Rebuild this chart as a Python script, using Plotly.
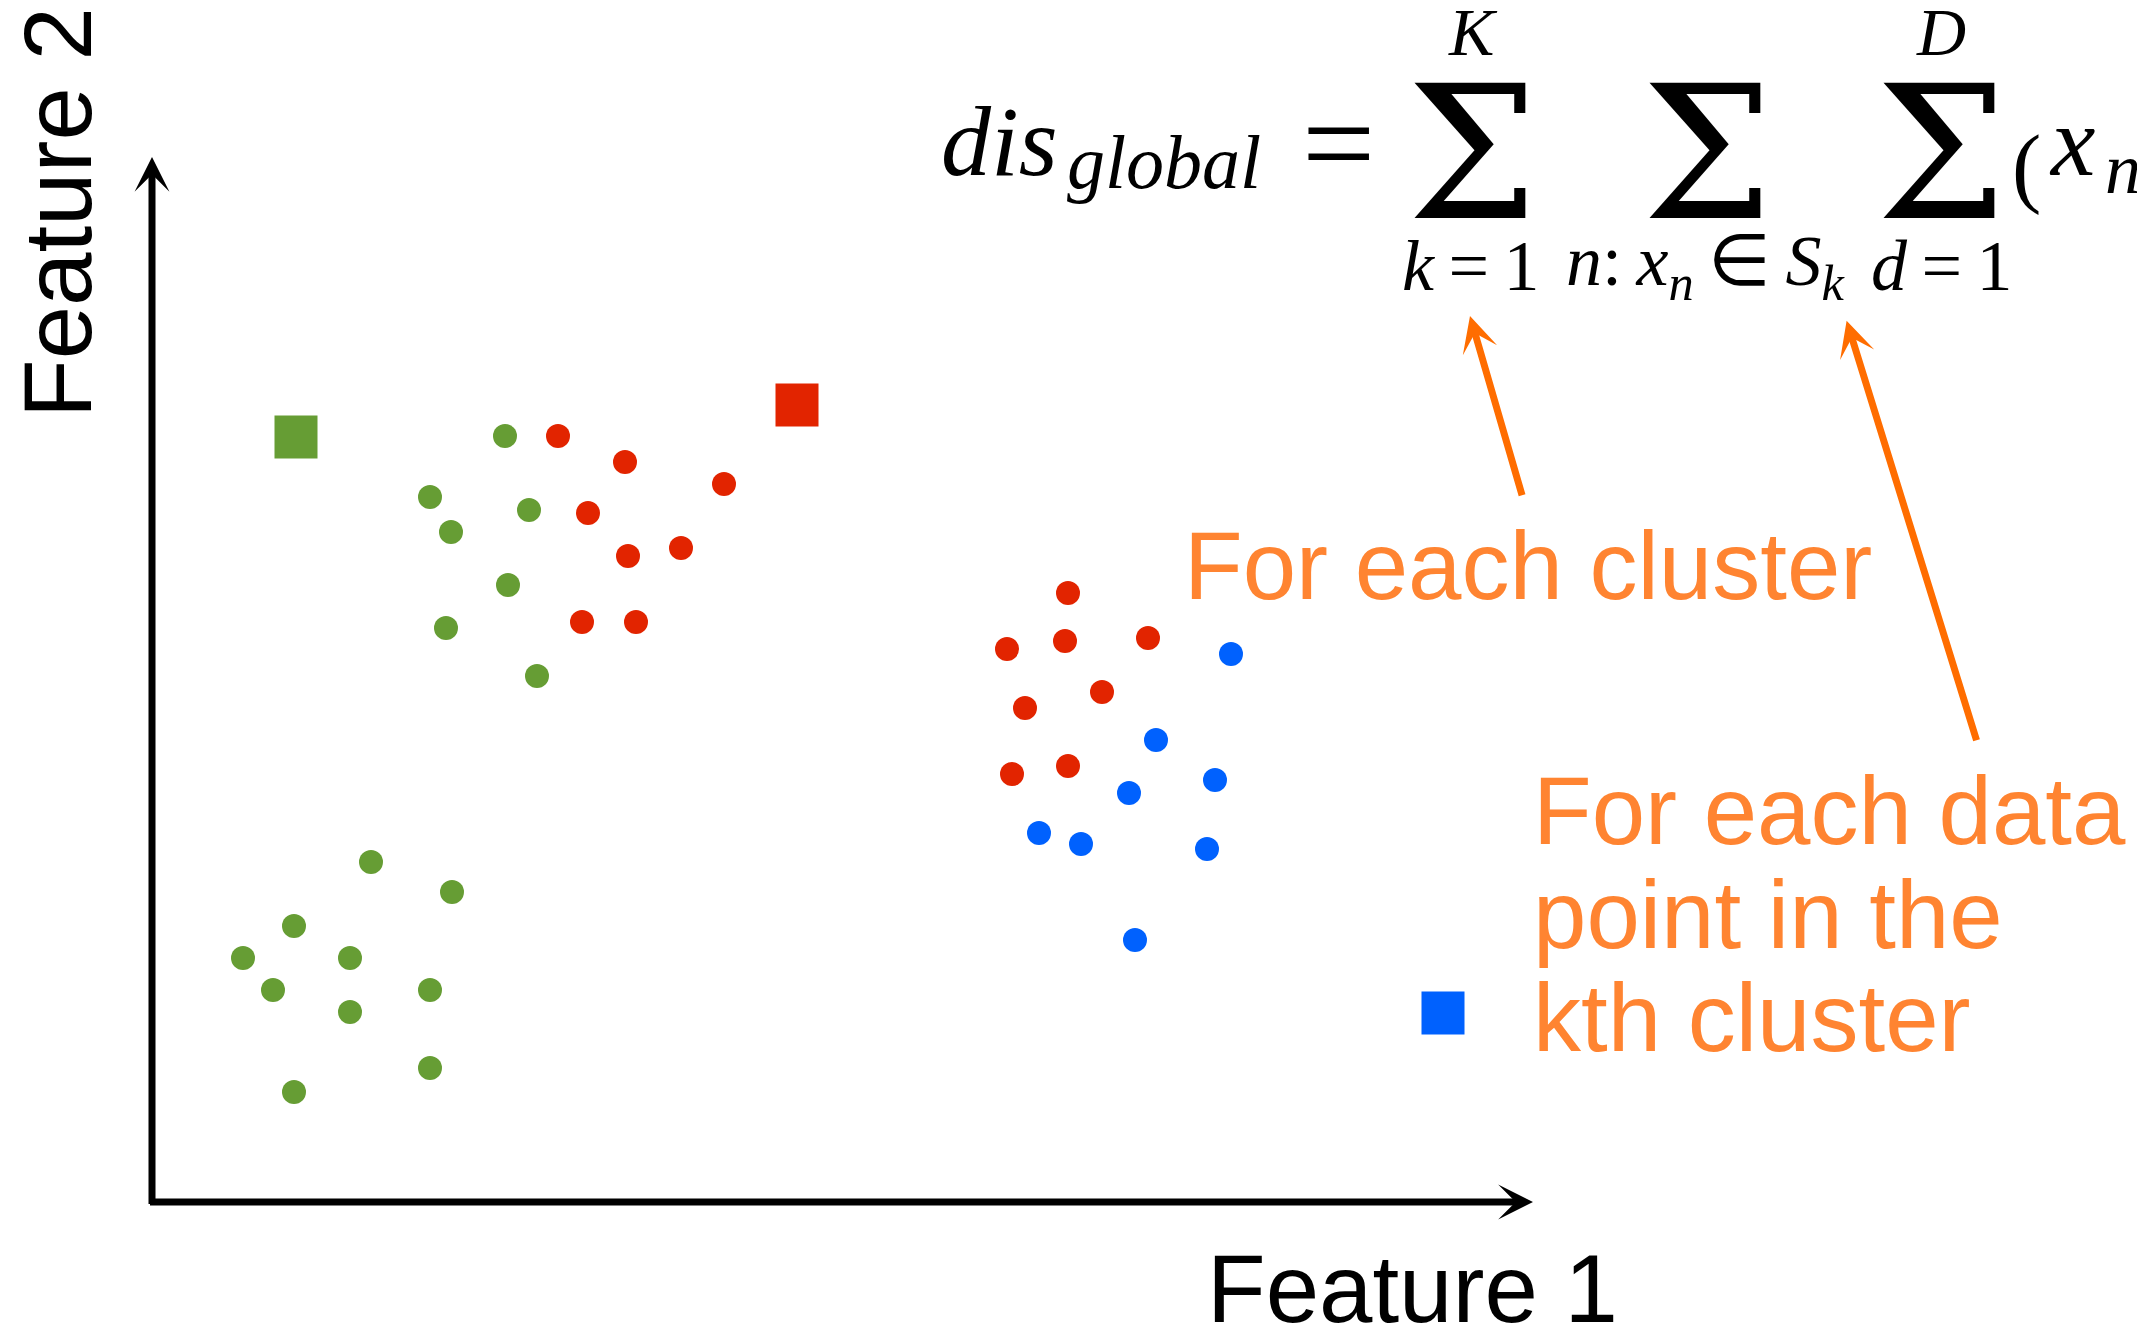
import plotly.graph_objects as go

W, H = 2137, 1325

# Samples in feature space (Feature 1, Feature 2), grouped by assigned cluster
green_x = [3.53, 2.78, 3.77, 2.99, 3.56, 2.94, 3.85,
           2.19, 3.00, 1.42, 0.91, 1.98, 1.21, 2.78, 1.98, 2.78, 1.42]
green_y = [7.66, 7.05, 6.92, 6.70, 6.17, 5.74, 5.26,
           3.40, 3.10, 2.76, 2.44, 2.44, 2.12, 2.12, 1.90, 1.34, 1.10]

red_x = [4.06, 4.73, 5.72, 4.36, 4.76, 5.29, 4.30, 4.84,
         9.16, 8.55, 9.13, 9.96, 9.50, 8.73, 8.60, 9.16]
red_y = [7.66, 7.40, 7.18, 6.89, 6.46, 6.54, 5.80, 5.80,
         6.09, 5.53, 5.61, 5.64, 5.10, 4.94, 4.28, 4.36]

blue_x = [10.79, 10.04, 10.63, 9.77, 8.87, 9.29, 10.55, 9.83]
blue_y = [5.48, 4.62, 4.22, 4.09, 3.69, 3.58, 3.53, 2.62]

# Cluster centroids
centroid_x = [1.44, 6.45, 12.91]
centroid_y = [7.65, 7.97, 1.89]

GREEN = "#669D34"
RED = "#E22400"
BLUE = "#0061FE"
ORANGE_TEXT = "#FF8431"
ORANGE_ARROW = "#FF6D00"
centroid_colors = [GREEN, RED, BLUE]

X_RANGE = [-1.52, 19.85]
Y_RANGE = [-1.23, 12.02]
X_AXIS_END = 13.81
Y_AXIS_END = 10.45

SANS = "Liberation Sans, Arial, Helvetica, sans-serif"
SERIF = "Liberation Serif, Times New Roman, serif"
SIGMA_FONT = "DejaVu Serif, serif"
THIN = "\u2009"

fig = go.Figure()

for xs, ys, col in [(green_x, green_y, GREEN), (red_x, red_y, RED), (blue_x, blue_y, BLUE)]:
    fig.add_trace(go.Scatter(
        x=xs, y=ys, mode="markers",
        marker=dict(size=24, color=col, line=dict(width=0)),
        hoverinfo="skip", showlegend=False,
    ))

fig.add_trace(go.Scatter(
    x=centroid_x, y=centroid_y, mode="markers",
    marker=dict(size=43, symbol="square", color=centroid_colors, line=dict(width=0)),
    hoverinfo="skip", showlegend=False,
))

# Axis arrows
fig.add_annotation(x=X_AXIS_END, y=0, ax=-0.035, ay=0, xref="x", yref="y", axref="x", ayref="y",
                   text="", showarrow=True, arrowhead=3, arrowwidth=7, arrowsize=0.83,
                   arrowcolor="black", standoff=0)
fig.add_annotation(x=0, y=Y_AXIS_END, ax=0, ay=-0.035, xref="x", yref="y", axref="x", ayref="y",
                   text="", showarrow=True, arrowhead=3, arrowwidth=7, arrowsize=0.83,
                   arrowcolor="black", standoff=0)


def text_at(text, x, baseline, size, family, color="black", xanchor="center"):
    """Place text so that its baseline sits at the given pixel row."""
    k = 0.3465 if family == SANS else 0.3375
    yc = baseline - k * size
    fig.add_annotation(
        text=text, x=x / W, y=1 - yc / H, xref="paper", yref="paper",
        showarrow=False, xanchor=xanchor, yanchor="middle",
        font=dict(size=size, family=family, color=color), borderpad=0,
    )


def center_at(text, x, y, size, family, color="black", xanchor="center"):
    fig.add_annotation(
        text=text, x=x / W, y=1 - y / H, xref="paper", yref="paper",
        showarrow=False, xanchor=xanchor, yanchor="middle",
        font=dict(size=size, family=family, color=color), borderpad=0,
    )


# Axis titles
text_at("Feature 1", 1413, 1322, 96, SANS)
fig.add_annotation(
    text="Feature 2", x=57 / W, y=1 - 213 / H, xref="paper", yref="paper",
    showarrow=False, xanchor="center", yanchor="middle", textangle=-90,
    font=dict(size=96, family=SANS, color="black"), borderpad=0,
)

# Objective formula
text_at("<i>dis</i>", 940, 175, 100, SERIF, xanchor="left")
text_at("<i>global</i>", 1066, 188, 76, SERIF, xanchor="left")
center_at("=", 1338, 143, 130, SERIF)
for cx in [1472, 1707, 1941]:
    center_at("\u03a3", cx, 154, 185, SIGMA_FONT)
text_at("<i>K</i>", 1473, 55, 68, SERIF)
text_at("<i>D</i>", 1941, 55, 68, SERIF)
text_at("<i>k</i>" + THIN + "=" + THIN + "1", 1470, 290, 72, SERIF)
text_at("<i>n</i>:" + THIN + "<i>x</i><sub><i>n</i></sub>" + THIN + "\u2208" + THIN
        + "<i>S</i><sub><i>k</i></sub>", 1705, 290, 72, SERIF)
text_at("<i>d</i>" + THIN + "=" + THIN + "1", 1941, 290, 72, SERIF)
center_at("(", 2026, 166, 88, SERIF)
text_at("<i>x</i>", 2048, 175, 100, SERIF, xanchor="left")
text_at("<i>n</i>", 2104, 193, 72, SERIF, xanchor="left")

# Orange callouts
text_at("For each cluster", 1183, 599, 96, SANS, color=ORANGE_TEXT, xanchor="left")
text_at("For each data", 1532, 844, 96, SANS, color=ORANGE_TEXT, xanchor="left")
text_at("point in the", 1532, 948, 96, SANS, color=ORANGE_TEXT, xanchor="left")
text_at("kth cluster", 1532, 1051, 96, SANS, color=ORANGE_TEXT, xanchor="left")

for tip, tail in [((1470, 316), (1522.5, 496.7)), ((1846.6, 320.7), (1977, 741.7))]:
    fig.add_annotation(
        x=tip[0] / W, y=1 - tip[1] / H, xref="paper", yref="paper",
        ax=tail[0] - tip[0], ay=tail[1] - tip[1], axref="pixel", ayref="pixel",
        text="", showarrow=True, arrowhead=3, arrowwidth=7, arrowsize=0.85,
        arrowcolor=ORANGE_ARROW, standoff=0,
    )

fig.update_layout(
    width=W, height=H, autosize=False,
    margin=dict(l=0, r=0, t=0, b=0),
    paper_bgcolor="white", plot_bgcolor="white",
    showlegend=False,
    xaxis=dict(range=X_RANGE, visible=False, fixedrange=True),
    yaxis=dict(range=Y_RANGE, visible=False, fixedrange=True),
)

fig.write_html("out.html", config={"displayModeBar": False})
